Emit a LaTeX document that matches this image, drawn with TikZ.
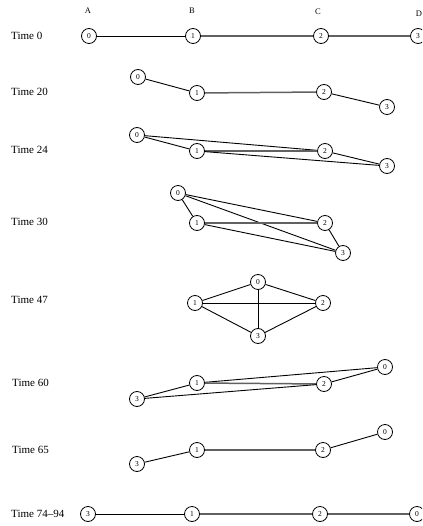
\documentclass[tikz,border=0pt]{standalone}
\usepackage{fontspec}
\setmainfont{Liberation Serif}
\begin{document}
\begin{tikzpicture}[x=1pt,y=-1pt,
  vtx/.style={draw,circle,line width=0.8pt,minimum size=15pt,inner sep=0pt,font=\fontsize{7.5}{8}\selectfont,fill=white},
  rowlabel/.style={anchor=west,font=\fontsize{11}{12}\selectfont,inner sep=0pt},
  collabel/.style={font=\fontsize{8.5}{10}\selectfont,inner sep=0pt},
  link/.style={draw=black,line width=0.9pt},
  heavy/.style={draw=black!62,line width=1.5pt}]
\useasboundingbox (0,0) rectangle (422,526);
\clip (0,0) rectangle (422,526);

% column headers
\node[collabel] (hA) at (88,11) {A};
\node[collabel] (hB) at (192,11) {B};
\node[collabel] (hC) at (318,12) {C};
\node[collabel] (hD) at (419,14) {D};

% row labels
\node[rowlabel] (l0)  at (11,36)  {Time 0};
\node[rowlabel] (l20) at (11,92)  {Time 20};
\node[rowlabel] (l24) at (11,150) {Time 24};
\node[rowlabel] (l30) at (11,222) {Time 30};
\node[rowlabel] (l47) at (11,300) {Time 47};
\node[rowlabel] (l60) at (12,383) {Time 60};
\node[rowlabel] (l65) at (12,450) {Time 65};
\node[rowlabel] (l74) at (11,514) {Time 74--94};

% Time 0
\node[vtx] (t0n0) at (89,36) {0};
\node[vtx] (t0n1) at (193,36) {1};
\node[vtx] (t0n2) at (321,36) {2};
\node[vtx] (t0n3) at (418,36) {3};
\draw[link] (t0n0) -- (t0n1);
\draw[heavy] (t0n1) -- (t0n2);
\draw[heavy] (t0n2) -- (t0n3);

% Time 20
\node[vtx] (t20n0) at (138,77) {0};
\node[vtx] (t20n1) at (197,93) {1};
\node[vtx] (t20n2) at (324,92) {2};
\node[vtx] (t20n3) at (387,107) {3};
\draw[link] (t20n0) -- (t20n1);
\draw[heavy] (t20n1) -- (t20n2);
\draw[link] (t20n2) -- (t20n3);

% Time 24
\node[vtx] (t24n0) at (137,135) {0};
\node[vtx] (t24n1) at (197,151) {1};
\node[vtx] (t24n2) at (325,151) {2};
\node[vtx] (t24n3) at (387,166) {3};
\draw[link] (t24n0) -- (t24n1);
\draw[link] (t24n0) -- (t24n2);
\draw[heavy] (t24n1) -- (t24n2);
\draw[link] (t24n1) -- (t24n3);
\draw[link] (t24n2) -- (t24n3);

% Time 30
\node[vtx] (t30n0) at (178,193) {0};
\node[vtx] (t30n1) at (197,223) {1};
\node[vtx] (t30n2) at (325,223) {2};
\node[vtx] (t30n3) at (343,253) {3};
\draw[link] (t30n0) -- (t30n1);
\draw[link] (t30n0) -- (t30n2);
\draw[link] (t30n0) -- (t30n3);
\draw[heavy] (t30n1) -- (t30n2);
\draw[link] (t30n1) -- (t30n3);
\draw[link] (t30n2) -- (t30n3);

% Time 47
\node[vtx] (t47n0) at (258,282) {0};
\node[vtx] (t47n1) at (195,303) {1};
\node[vtx] (t47n2) at (323,303) {2};
\node[vtx] (t47n3) at (258,336) {3};
\draw[link] (t47n0) -- (t47n1);
\draw[link] (t47n0) -- (t47n2);
\draw[link] (t47n0) -- (t47n3);
\draw[link] (t47n1) -- (t47n2);
\draw[link] (t47n1) -- (t47n3);
\draw[link] (t47n2) -- (t47n3);

% Time 60
\node[vtx] (t60n0) at (385,367) {0};
\node[vtx] (t60n1) at (197,383) {1};
\node[vtx] (t60n2) at (324,384) {2};
\node[vtx] (t60n3) at (137,399) {3};
\draw[link] (t60n0) -- (t60n1);
\draw[link] (t60n0) -- (t60n2);
\draw[heavy] (t60n1) -- (t60n2);
\draw[link] (t60n1) -- (t60n3);
\draw[link] (t60n2) -- (t60n3);

% Time 65
\node[vtx] (t65n0) at (385,432) {0};
\node[vtx] (t65n1) at (197,450) {1};
\node[vtx] (t65n2) at (323,450) {2};
\node[vtx] (t65n3) at (137,464) {3};
\draw[link] (t65n3) -- (t65n1);
\draw[heavy] (t65n1) -- (t65n2);
\draw[link] (t65n2) -- (t65n0);

% Time 74-94
\node[vtx] (t74n3) at (88,514) {3};
\node[vtx] (t74n1) at (192,514) {1};
\node[vtx] (t74n2) at (320,514) {2};
\node[vtx] (t74n0) at (417,514) {0};
\draw[link] (t74n3) -- (t74n1);
\draw[heavy] (t74n1) -- (t74n2);
\draw[heavy] (t74n2) -- (t74n0);
\end{tikzpicture}
\end{document}
